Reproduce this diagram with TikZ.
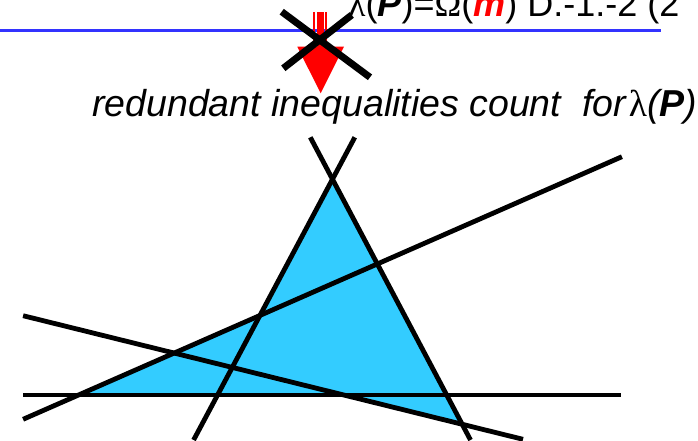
\documentclass[tikz,border=0pt]{standalone}
\usepackage{fontspec}
\setmainfont{Liberation Sans}
\newfontfamily\greekfont{Liberation Serif}
\definecolor{regionblue}{HTML}{33CCFF}
\definecolor{rulerblue}{HTML}{3333FF}
\definecolor{arrowred}{HTML}{FF0000}
\tikzset{
  bigtext/.style={inner sep=0pt, anchor=base west, font=\fontsize{36}{40}\selectfont},
  captiontext/.style={inner sep=0pt, anchor=base west, font=\fontsize{37.5}{42}\selectfont\itshape},
  halfplane/.style={draw=black, line width=4.8pt},
  crossline/.style={draw=black, line width=7pt},
}
\begin{document}
\begin{tikzpicture}[x=1pt,y=-1pt]
\useasboundingbox (0,0) rectangle (698,440);
% line end points
\coordinate (a1) at (354.8,137.3); \coordinate (a2) at (193.6,440);
\coordinate (b1) at (310.3,137.3); \coordinate (b2) at (470.5,440);
\coordinate (c1) at (23.1,419.3);  \coordinate (c2) at (621.9,156.7);
\coordinate (d1) at (23.1,315.7);  \coordinate (d2) at (523,439.3);
\coordinate (e1) at (23.1,395);    \coordinate (e2) at (621,395);
% feasible region
\coordinate (apex) at (intersection of a1--a2 and b1--b2);
\coordinate (pac) at (intersection of a1--a2 and c1--c2);
\coordinate (pce) at (intersection of c1--c2 and e1--e2);
\coordinate (ped) at (intersection of e1--e2 and d1--d2);
\coordinate (pdb) at (intersection of d1--d2 and b1--b2);
\fill[regionblue] (apex) -- (pac) -- (pce) -- (ped) -- (pdb) -- cycle;
\draw[halfplane] (a1) -- (a2);
\draw[halfplane] (b1) -- (b2);
\draw[halfplane] (c1) -- (c2);
\draw[halfplane] (d1) -- (d2);
\draw[halfplane] (e1) -- (e2);
% top rule
\coordinate (r1) at (0,30.5); \coordinate (r2) at (660.7,30.5);
\draw[rulerblue, line width=3pt] (r1) -- (r2);
% red arrow
\fill[arrowred] (316.6,11.7) rectangle (323.6,47);
\fill[arrowred] (312.8,11.7) rectangle (314.8,47);
\fill[arrowred] (325.3,11.7) rectangle (327.2,47);
\fill[arrowred] (297.3,46.7) -- (344,46.7) -- (320.7,93.3) -- cycle;
% cross
\coordinate (x1) at (281.7,11.7); \coordinate (x2) at (370,77.3);
\coordinate (x3) at (351.7,15);   \coordinate (x4) at (283.3,68.3);
\draw[crossline] (x1) -- (x2);
\draw[crossline] (x3) -- (x4);
% texts
\node[bigtext] (toptext) at (348,16) {{\greekfont λ}(\textbf{\textit{P}})={\greekfont Ω}(\textcolor{arrowred}{\textbf{\textit{m}}}) D.-1.-2 (2};
\node[captiontext] (caption) at (92,116) {redundant inequalities count\ \ for\hspace{3pt}{\greekfont\upshape λ}(\textbf{P})};
\end{tikzpicture}
\end{document}
